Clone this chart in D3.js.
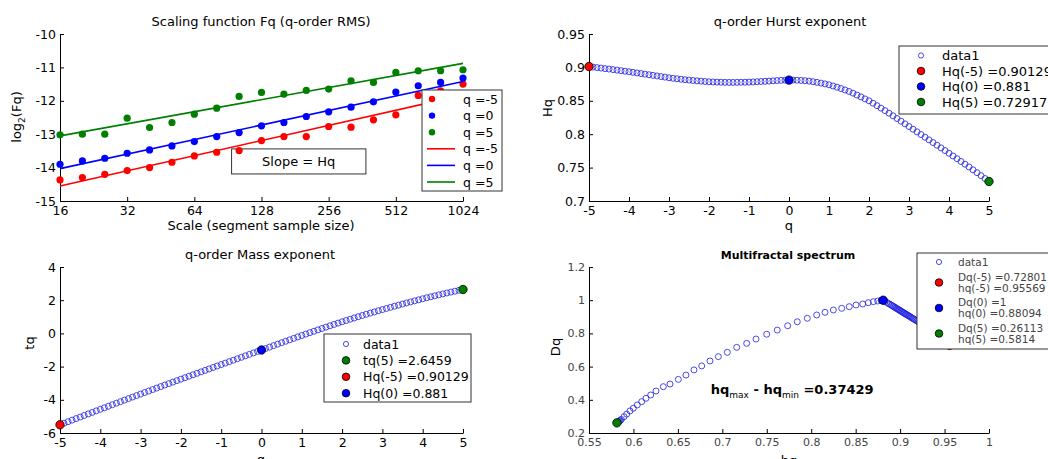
<!DOCTYPE html>
<html>
<head>
<meta charset="utf-8">
<script src="https://cdn.jsdelivr.net/npm/d3@7"></script>
<style>
body { margin: 0; background: #fff; }
svg { display: block; font-family: "DejaVu Sans", sans-serif; }
</style>
</head>
<body>
<svg width="1048" height="459"></svg>
<script>
// ---- scaling function (top left) ----
var scaleSizes = [16, 20.16, 25.4, 32, 40.32, 50.8, 64, 80.63, 101.6, 128, 161.3, 203.2, 256, 322.5, 406.4, 512, 645.1, 812.7, 1024]
var fqNeg5 = [-14.37,-14.30,-14.20,-14.09,-14.00,-13.84,-13.65,-13.54,-13.49,-13.19,-13.07,-13.07,-12.77,-12.79,-12.57,-12.42,-11.84,-11.70,-11.50]
var fqZero = [-13.90,-13.80,-13.72,-13.57,-13.47,-13.35,-13.22,-13.07,-12.95,-12.75,-12.65,-12.47,-12.33,-12.19,-12.03,-11.74,-11.55,-11.45,-11.32]
var fqPos5 = [-13.02,-13.00,-13.00,-12.52,-12.80,-12.65,-12.40,-12.22,-11.87,-11.75,-11.80,-11.69,-11.65,-11.40,-11.45,-11.15,-11.10,-11.10,-11.07]
var fitStart = [-14.55, -14.03, -13.05]   // fitted line value at scale 16 (q=-5, 0, 5)
var fitEnd = [-11.83, -11.42, -10.88]     // fitted line value at scale 1024
var fqLabels = ["q =-5", "q =0", "q =5"]
var scaleTicks = [16, 32, 64, 128, 256, 512, 1024]
var fqTicks = [-15, -14, -13, -12, -11, -10]
var slopeBoxX = [94, 376]
var slopeBoxY = [-13.44, -14.19]

// ---- q-order Hurst / mass exponent ----
var qMin = -5, qMax = 5
var hqCurve = [0.9013,0.9005,0.8997,0.8990,0.8982,0.8975,0.8967,0.8959,0.8951,0.8943,
  0.8935,0.8926,0.8917,0.8908,0.8899,0.8890,0.8881,0.8872,0.8863,0.8854,
  0.8845,0.8837,0.8830,0.8823,0.8816,0.8810,0.8804,0.8799,0.8794,0.8789,
  0.8785,0.8782,0.8780,0.8778,0.8776,0.8775,0.8775,0.8776,0.8777,0.8778,
  0.8780,0.8783,0.8786,0.8789,0.8792,0.8795,0.8799,0.8803,0.8806,0.8809,
  0.8810,0.8810,0.8808,0.8805,0.8801,0.8795,0.8786,0.8776,0.8765,0.8753,
  0.8740,0.8722,0.8703,0.8683,0.8662,0.8640,0.8614,0.8586,0.8558,0.8529,
  0.8500,0.8464,0.8427,0.8390,0.8353,0.8315,0.8275,0.8235,0.8195,0.8155,
  0.8115,0.8075,0.8035,0.7995,0.7955,0.7915,0.7875,0.7835,0.7795,0.7755,
  0.7715,0.7674,0.7633,0.7592,0.7551,0.7510,0.7467,0.7424,0.7380,0.7336,
  0.7292]
var tqCurve = [-5.506,-5.412,-5.319,-5.225,-5.132,-5.039,-4.945,-4.852,-4.759,-4.667,
  -4.574,-4.481,-4.388,-4.296,-4.204,-4.112,-4.020,-3.928,-3.836,-3.745,
  -3.654,-3.563,-3.472,-3.382,-3.292,-3.203,-3.113,-3.024,-2.935,-2.846,
  -2.757,-2.669,-2.580,-2.492,-2.404,-2.316,-2.229,-2.141,-2.053,-1.966,
  -1.878,-1.790,-1.703,-1.615,-1.528,-1.440,-1.352,-1.264,-1.176,-1.088,
  -1.000,-0.912,-0.824,-0.736,-0.648,-0.560,-0.473,-0.386,-0.299,-0.212,
  -0.126,-0.041,0.044,0.129,0.213,0.296,0.378,0.460,0.540,0.621,
  0.700,0.777,0.854,0.930,1.005,1.079,1.152,1.223,1.295,1.365,
  1.435,1.503,1.571,1.638,1.705,1.770,1.835,1.899,1.962,2.024,
  2.086,2.146,2.206,2.265,2.322,2.380,2.435,2.489,2.542,2.595,
  2.646]
var qTicks = [-5,-4,-3,-2,-1,0,1,2,3,4,5]
var hqTicks = [0.7, 0.75, 0.8, 0.85, 0.9, 0.95]
var tqTicks = [-6, -4, -2, 0, 2, 4]

var markQ = [-5, 0, 5]
var hurstMarks = [0.90129, 0.881, 0.72917]
var hurstLabels = ["data1", "Hq(-5) =0.90129", "Hq(0) =0.881", "Hq(5) =0.72917"]
var massMarkQ = [5, -5, 0]
var massMarks = [2.6459, -5.506, -1.0]
var massLabels = ["data1", "tq(5) =2.6459", "Hq(-5) =0.90129", "Hq(0) =0.881"]

// ---- multifractal spectrum (q = -5 ... 4.9) ----
var specH = [0.9557,0.9535,0.9514,0.9493,0.9473,0.9453,0.9434,0.9415,0.9397,0.9379,
  0.9361,0.9344,0.9327,0.9310,0.9294,0.9278,0.9262,0.9247,0.9232,0.9217,
  0.9203,0.9189,0.9175,0.9162,0.9149,0.9136,0.9123,0.9111,0.9099,0.9087,
  0.9075,0.9064,0.9053,0.9042,0.9031,0.9020,0.9009,0.8998,0.8987,0.8976,
  0.8965,0.8953,0.8941,0.8929,0.8916,0.8902,0.8887,0.8870,0.8852,0.8831,
  0.8809,0.8808,0.8805,0.8801,0.8797,0.8793,0.8786,0.8748,0.8699,0.8642,
  0.8579,0.8504,0.8428,0.8343,0.8249,0.8155,0.8062,0.7956,0.7843,0.7735,
  0.7618,0.7499,0.7379,0.7274,0.7162,0.7056,0.6955,0.6861,0.6768,0.6681,
  0.6591,0.6505,0.6411,0.6336,0.6254,0.6194,0.6141,0.6093,0.6043,0.5999,
  0.5961,0.5924,0.5894,0.5864,0.5853,0.5843,0.5835,0.5827,0.5820,0.5814]
var specD = [0.728,0.737,0.746,0.754,0.762,0.770,0.778,0.785,0.793,0.800,
  0.807,0.814,0.821,0.828,0.834,0.841,0.847,0.853,0.859,0.865,
  0.870,0.875,0.880,0.884,0.888,0.892,0.897,0.901,0.905,0.909,
  0.913,0.916,0.920,0.923,0.927,0.931,0.934,0.938,0.942,0.945,
  0.949,0.953,0.957,0.961,0.965,0.970,0.975,0.980,0.986,0.993,
  1.000,1.000,1.000,1.000,0.999,0.999,0.998,0.995,0.991,0.985,
  0.977,0.971,0.961,0.951,0.941,0.927,0.911,0.891,0.870,0.846,
  0.820,0.795,0.766,0.740,0.716,0.686,0.660,0.634,0.604,0.580,
  0.549,0.523,0.495,0.479,0.453,0.429,0.409,0.389,0.369,0.349,
  0.333,0.314,0.298,0.282,0.277,0.272,0.268,0.266,0.264,0.261]
var specMarkH = [0.95569, 0.88094, 0.5814]
var specMarkD = [0.72801, 1.0, 0.26113]
var specLabels = [["Dq(-5) =0.72801", "hq(-5) =0.95569"], ["Dq(0) =1", "hq(0) =0.88094"], ["Dq(5) =0.26113", "hq(5) =0.5814"]]
var specHTicks = [0.55, 0.6, 0.65, 0.7, 0.75, 0.8, 0.85, 0.9, 0.95, 1]
var specDTicks = [0.2, 0.4, 0.6, 0.8, 1, 1.2]
var widthText = "=0.37429"

var colors = ["#ff0000", "#0000ff", "#007f00"]
var circleBlue = "#2020e0"
var svg = d3.select("svg")

var qGrid = d3.range(qMin * 10, qMax * 10 + 1).map(function(i) { return i / 10 })

// draws axes (left + bottom, ticks inward) and returns a plot group
var panel = function(left, top, xScale, yScale, xTicks, yTicks, fs, textColor)
{
    var g = svg.append("g").attr("transform", "translate(" + left + "," + top + ")")
    var h = yScale.range()[0]
    var fmt = function(d) { return String(d) }
    var xa = g.append("g")
        .attr("transform", "translate(0," + h + ")")
        .call(d3.axisBottom(xScale).tickValues(xTicks).tickFormat(fmt).tickSizeInner(-4).tickSizeOuter(0).tickPadding(5))
    var ya = g.append("g")
        .call(d3.axisLeft(yScale).tickValues(yTicks).tickFormat(fmt).tickSizeInner(-4).tickSizeOuter(0).tickPadding(4))
    ;[xa, ya].forEach(function(a) {
        a.attr("font-family", "DejaVu Sans").attr("font-size", fs)
        a.selectAll("text").attr("fill", textColor)
        a.selectAll("path,line").attr("stroke", "#000")
    })
    return g
}

var title = function(x, y, txt, fs, bold)
{
    svg.append("text").attr("x", x).attr("y", y).attr("text-anchor", "middle")
        .attr("font-size", fs).attr("font-weight", bold ? "bold" : "normal").text(txt)
}
var ylabel = function(x, y, txt)
{
    return svg.append("text").attr("transform", "translate(" + x + "," + y + ") rotate(-90)")
        .attr("text-anchor", "middle").attr("font-size", 13).text(txt)
}

// ================= top left =================
var xTL = d3.scaleLog().base(2).domain([16, 1024]).range([0, 403])
var yTL = d3.scaleLinear().domain([-15, -10]).range([167, 0])
var gTL = panel(60, 34, xTL, yTL, scaleTicks, fqTicks, 12.5, "#000")

gTL.append("rect")
    .attr("x", xTL(slopeBoxX[0])).attr("y", yTL(slopeBoxY[0]))
    .attr("width", xTL(slopeBoxX[1]) - xTL(slopeBoxX[0]))
    .attr("height", yTL(slopeBoxY[1]) - yTL(slopeBoxY[0]))
    .attr("fill", "#fff").attr("stroke", "#333")
gTL.append("text")
    .attr("x", (xTL(slopeBoxX[0]) + xTL(slopeBoxX[1])) / 2)
    .attr("y", (yTL(slopeBoxY[0]) + yTL(slopeBoxY[1])) / 2)
    .attr("dy", "0.36em").attr("text-anchor", "middle").attr("font-size", 13)
    .text("Slope = Hq")

var fqSeries = [fqNeg5, fqZero, fqPos5]
fqSeries.forEach(function(vals, i)
{
    gTL.append("line")
        .attr("x1", xTL(16)).attr("y1", yTL(fitStart[i]))
        .attr("x2", xTL(1024)).attr("y2", yTL(fitEnd[i]))
        .attr("stroke", colors[i]).attr("stroke-width", 1.6)
    gTL.selectAll(".dot" + i)
        .data(vals)
        .enter()
        .append("circle")
        .attr("cx", function(d, j) { return xTL(scaleSizes[j]) })
        .attr("cy", function(d) { return yTL(d) })
        .attr("r", 3.6)
        .attr("fill", colors[i])
})

var legTL = svg.append("g").attr("transform", "translate(422,90)")
legTL.append("rect").attr("width", 80).attr("height", 101).attr("fill", "#fff").attr("stroke", "#333")
fqLabels.concat(fqLabels).forEach(function(lab, i)
{
    var y = 9 + i * 16.6
    var c = colors[i % 3]
    if (i < 3)
        legTL.append("circle").attr("cx", 10).attr("cy", y).attr("r", 3.2).attr("fill", c)
    else
        legTL.append("line").attr("x1", 5).attr("x2", 33).attr("y1", y).attr("y2", y).attr("stroke", c).attr("stroke-width", 1.6)
    legTL.append("text").attr("x", 41).attr("y", y).attr("dy", "0.36em").attr("font-size", 12.5).text(lab)
})

title(261, 26, "Scaling function Fq (q-order RMS)", 13)
svg.append("text").attr("x", 261).attr("y", 230).attr("text-anchor", "middle").attr("font-size", 13)
    .text("Scale (segment sample size)")
var ylTL = ylabel(21, 117, "")
ylTL.append("tspan").text("log")
ylTL.append("tspan").attr("font-size", 9).attr("dy", 4).text("2")
ylTL.append("tspan").attr("dy", -4).text("(Fq)")

// markers helper
var openCircles = function(g, xs, ys, xScale, yScale)
{
    g.selectAll(".open")
        .data(ys)
        .enter()
        .append("circle")
        .attr("cx", function(d, j) { return xScale(xs[j]) })
        .attr("cy", function(d) { return yScale(d) })
        .attr("r", 3)
        .attr("fill", "none")
        .attr("stroke", circleBlue)
        .attr("stroke-width", 0.8)
}
var filledMarks = function(g, xs, ys, cols, xScale, yScale)
{
    ys.forEach(function(v, i)
    {
        g.append("circle").attr("cx", xScale(xs[i])).attr("cy", yScale(v))
            .attr("r", 4.2).attr("fill", cols[i]).attr("stroke", "#000").attr("stroke-width", 0.8)
    })
}
var legendBox = function(x, y, w, h)
{
    var lg = svg.append("g").attr("transform", "translate(" + x + "," + y + ")")
    lg.append("rect").attr("width", w).attr("height", h).attr("fill", "#fff").attr("stroke", "#333")
    return lg
}

// ================= top right =================
var xTR = d3.scaleLinear().domain([qMin, qMax]).range([0, 400])
var yTR = d3.scaleLinear().domain([0.7, 0.95]).range([167, 0])
var gTR = panel(589, 34, xTR, yTR, qTicks, hqTicks, 12.5, "#000")
openCircles(gTR, qGrid, hqCurve, xTR, yTR)
filledMarks(gTR, markQ, hurstMarks, colors, xTR, yTR)
title(790, 26, "q-order Hurst exponent", 13)
svg.append("text").attr("x", 789).attr("y", 230).attr("text-anchor", "middle").attr("font-size", 13).text("q")
ylabel(552, 108, "Hq")

var legTR = legendBox(899, 46, 170, 68)
hurstLabels.forEach(function(lab, i)
{
    var y = 9.5 + i * 15.5
    if (i == 0)
        legTR.append("circle").attr("cx", 22).attr("cy", y).attr("r", 2.6).attr("fill", "none").attr("stroke", circleBlue).attr("stroke-width", 0.8)
    else
        legTR.append("circle").attr("cx", 22).attr("cy", y).attr("r", 3.8).attr("fill", colors[i - 1]).attr("stroke", "#000").attr("stroke-width", 0.8)
    legTR.append("text").attr("x", 43).attr("y", y).attr("dy", "0.36em").attr("font-size", 13).text(lab)
})

// ================= bottom left =================
var xBL = d3.scaleLinear().domain([qMin, qMax]).range([0, 403])
var yBL = d3.scaleLinear().domain([-6, 4]).range([166, 0])
var gBL = panel(60, 267, xBL, yBL, qTicks, tqTicks, 12.5, "#000")
openCircles(gBL, qGrid, tqCurve, xBL, yBL)
filledMarks(gBL, massMarkQ, massMarks, [colors[2], colors[0], colors[1]], xBL, yBL)
title(260, 259, "q-order Mass exponent", 13)
svg.append("text").attr("x", 261).attr("y", 464).attr("text-anchor", "middle").attr("font-size", 13).text("q")
ylabel(34, 343, "tq")

var legBL = legendBox(324, 334, 147, 68)
var blCols = [null, colors[2], colors[0], colors[1]]
massLabels.forEach(function(lab, i)
{
    var y = 10 + i * 16.4
    if (i == 0)
        legBL.append("circle").attr("cx", 22).attr("cy", y).attr("r", 2.6).attr("fill", "none").attr("stroke", circleBlue).attr("stroke-width", 0.8)
    else
        legBL.append("circle").attr("cx", 22).attr("cy", y).attr("r", 3.8).attr("fill", blCols[i]).attr("stroke", "#000").attr("stroke-width", 0.8)
    legBL.append("text").attr("x", 39).attr("y", y).attr("dy", "0.36em").attr("font-size", 12.5).text(lab)
})

// ================= bottom right =================
var xBR = d3.scaleLinear().domain([0.55, 1]).range([0, 400])
var yBR = d3.scaleLinear().domain([0.2, 1.2]).range([166, 0])
var gBR = panel(589, 267, xBR, yBR, specHTicks, specDTicks, 11, "#444")
openCircles(gBR, specH, specD, xBR, yBR)
filledMarks(gBR, specMarkH, specMarkD, colors, xBR, yBR)
title(788, 259, "Multifractal spectrum", 11, true)
svg.append("text").attr("x", 789).attr("y", 465).attr("text-anchor", "middle").attr("font-size", 13).text("hq")
ylabel(560, 347, "Dq")

var ann = gBR.append("text")
    .attr("x", xBR(0.687)).attr("y", yBR(0.465)).attr("dy", "0.36em")
    .attr("font-size", 13).attr("font-weight", "bold")
ann.append("tspan").text("hq")
ann.append("tspan").attr("font-size", 9).attr("font-weight", "normal").attr("dy", 4).text("max")
ann.append("tspan").attr("dy", -4).text(" - hq")
ann.append("tspan").attr("font-size", 9).attr("font-weight", "normal").attr("dy", 4).text("min")
ann.append("tspan").attr("dy", -4).text(" " + widthText)

var legBR = legendBox(917, 253, 150, 96)
legBR.append("circle").attr("cx", 22).attr("cy", 9).attr("r", 2.6).attr("fill", "none").attr("stroke", circleBlue).attr("stroke-width", 0.8)
legBR.append("text").attr("x", 41).attr("y", 9).attr("dy", "0.36em").attr("font-size", 10.5).attr("fill", "#444").text("data1")
specLabels.forEach(function(pair, i)
{
    var y = 29.5 + i * 25.5
    legBR.append("circle").attr("cx", 22).attr("cy", y).attr("r", 3.8).attr("fill", colors[i]).attr("stroke", "#000").attr("stroke-width", 0.8)
    pair.forEach(function(lab, k)
    {
        legBR.append("text").attr("x", 41).attr("y", y - 5.5 + k * 11).attr("dy", "0.36em")
            .attr("font-size", 10.5).attr("fill", "#444").text(lab)
    })
})
</script>
</body>
</html>
